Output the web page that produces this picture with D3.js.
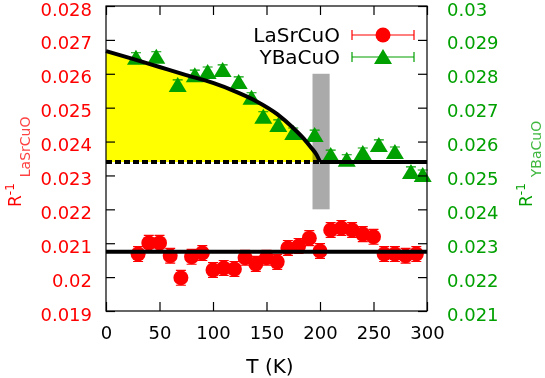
<!DOCTYPE html>
<meta charset="utf-8">
<script src="https://cdn.jsdelivr.net/npm/d3@7"></script>
<style>
  body { margin: 0; background: #fff; }
  svg { font-family: "DejaVu Sans", sans-serif; }
</style>
<body>
<script>
// LaSrCuO (left axis), red circles
const laT = [30, 40, 50, 60, 70, 80, 90, 100, 110, 120, 130, 140, 150, 160, 170,
             180, 190, 200, 210, 220, 230, 240, 250, 260, 270, 280, 290];
const laVal = [0.02068, 0.02101, 0.02101, 0.02063, 0.01998, 0.02060, 0.02071, 0.02021, 0.02027,
               0.02024, 0.02057, 0.02039, 0.02057, 0.02045, 0.02086, 0.02092, 0.02115, 0.02077,
               0.02139, 0.02145, 0.02139, 0.02127, 0.02119, 0.02068, 0.02068, 0.02063, 0.02068];
const laErr = [0.00022, 0.00022, 0.00022, 0.00022, 0.00022, 0.00022, 0.00022, 0.00022, 0.00022,
               0.00022, 0.00022, 0.00022, 0.00022, 0.00022, 0.00022, 0.00022, 0.00022, 0.00022,
               0.00022, 0.00022, 0.00022, 0.00022, 0.00022, 0.00022, 0.00022, 0.00022, 0.00022];
const laFit = 0.02075;

// YBaCuO (right axis), green triangles
const ybT = [28, 47, 67, 83, 95, 109, 124, 136, 147, 161, 175, 195, 210, 225, 240, 255, 270, 285, 296];
const ybVal = [0.02847, 0.02850, 0.02767, 0.02796, 0.02805, 0.02811, 0.02776, 0.02729, 0.02673,
               0.02649, 0.02625, 0.02619, 0.02560, 0.02546, 0.02566, 0.02590, 0.02569, 0.02510, 0.02501];
const ybErr = [0.00015, 0.00015, 0.00015, 0.00015, 0.00015, 0.00015, 0.00015, 0.00015, 0.00015,
               0.00015, 0.00015, 0.00015, 0.00015, 0.00015, 0.00015, 0.00015, 0.00015, 0.00015, 0.00015];

// fit curve for YBaCuO (right axis units)
const fitT = [0, 25, 50, 75, 100, 120, 140, 160, 175, 185, 192, 197, 200];
const fitVal = [0.02867, 0.02844, 0.02820, 0.02796, 0.02773, 0.02749, 0.02720, 0.02681,
                0.02640, 0.02608, 0.02581, 0.02560, 0.0254];
const ybBase = 0.0254;
const tc = 200;
const grayT = [193, 209];
const grayVal = [0.024, 0.028];

const xTicks = [0, 50, 100, 150, 200, 250, 300];
const leftTicks = [0.019, 0.02, 0.021, 0.022, 0.023, 0.024, 0.025, 0.026, 0.027, 0.028];
const rightTicks = [0.021, 0.022, 0.023, 0.024, 0.025, 0.026, 0.027, 0.028, 0.029, 0.03];

const red = "#ff0000", green = "#00a000";
const L = 106, R = 427, T = 6, B = 311;

const x = d3.scaleLinear().domain([0, 300]).range([L, R]);
const yL = d3.scaleLinear().domain([0.019, 0.028]).range([B, T]);
const yR = d3.scaleLinear().domain([0.021, 0.030]).range([B, T]);

const svg = d3.select("body").append("svg").attr("width", 545).attr("height", 378);

// gray band
svg.append("rect")
  .attr("x", x(grayT[0])).attr("width", x(grayT[1]) - x(grayT[0]))
  .attr("y", yR(grayVal[1])).attr("height", yR(grayVal[0]) - yR(grayVal[1]))
  .attr("fill", "#aaaaaa");

const fitPts = fitT.map((t, i) => [t, fitVal[i]]);

// yellow area between fit curve and baseline
svg.append("path")
  .datum(fitPts)
  .attr("d", d3.area().x(d => x(d[0])).y0(yR(ybBase)).y1(d => yR(d[1])).curve(d3.curveMonotoneX))
  .attr("fill", "#ffff00")
  .style("mix-blend-mode", "multiply");

// red error bars + circles
const laG = svg.append("g");
laT.forEach((t, i) => {
  const cx = x(t), hi = yL(laVal[i] + laErr[i]), lo = yL(laVal[i] - laErr[i]);
  laG.append("path")
    .attr("d", `M${cx},${hi}V${lo}M${cx - 5},${hi}H${cx + 5}M${cx - 5},${lo}H${cx + 5}`)
    .attr("stroke", red).attr("stroke-width", 1.2).attr("fill", "none");
});
laG.selectAll("circle").data(laT).join("circle")
  .attr("cx", d => x(d)).attr("cy", (d, i) => yL(laVal[i])).attr("r", 7.5)
  .attr("fill", red);

// green triangles
const tri = "M0,-8L9,7L-9,7Z";
const ybG = svg.append("g");
ybT.forEach((t, i) => {
  const cx = x(t), hi = yR(ybVal[i] + ybErr[i]), lo = yR(ybVal[i] - ybErr[i]);
  ybG.append("path")
    .attr("d", `M${cx},${hi}V${lo}M${cx - 5},${hi}H${cx + 5}M${cx - 5},${lo}H${cx + 5}`)
    .attr("stroke", green).attr("stroke-width", 1.2).attr("fill", "none");
});
ybG.selectAll("path.tri").data(ybT).join("path").attr("class", "tri")
  .attr("d", tri)
  .attr("transform", (d, i) => `translate(${x(d)},${yR(ybVal[i])})`)
  .attr("fill", green);

// fit lines
svg.append("line")
  .attr("x1", x(0)).attr("x2", x(tc)).attr("y1", yR(ybBase)).attr("y2", yR(ybBase))
  .attr("stroke", "#000").attr("stroke-width", 4).attr("stroke-dasharray", "6,3");
svg.append("line")
  .attr("x1", x(tc)).attr("x2", x(300)).attr("y1", yR(ybBase)).attr("y2", yR(ybBase))
  .attr("stroke", "#000").attr("stroke-width", 4);
svg.append("path")
  .datum(fitPts)
  .attr("d", d3.line().x(d => x(d[0])).y(d => yR(d[1])).curve(d3.curveMonotoneX))
  .attr("fill", "none").attr("stroke", "#000").attr("stroke-width", 4);
svg.append("line")
  .attr("x1", x(0)).attr("x2", x(300)).attr("y1", yL(laFit)).attr("y2", yL(laFit))
  .attr("stroke", "#000").attr("stroke-width", 4);

// axes
const fmt = d => String(+d.toFixed(3));
function style(g, color) {
  g.attr("font-family", "DejaVu Sans, sans-serif").attr("font-size", 18);
  g.select(".domain").remove();
  g.selectAll(".tick line").attr("stroke", "#000").attr("stroke-width", 1.2);
  g.selectAll(".tick text").attr("fill", color);
}
svg.append("g").attr("transform", `translate(0,${B})`)
  .call(d3.axisBottom(x).tickValues(xTicks).tickSizeInner(-9).tickSizeOuter(0).tickPadding(15))
  .call(g => style(g, "#000"));
svg.append("g").attr("transform", `translate(0,${T})`)
  .call(d3.axisTop(x).tickValues(xTicks).tickSizeInner(-9).tickSizeOuter(0).tickFormat(""))
  .call(g => style(g, "#000"));
svg.append("g").attr("transform", `translate(${L},0)`)
  .call(d3.axisLeft(yL).tickValues(leftTicks).tickFormat(fmt).tickSizeInner(-9).tickSizeOuter(0).tickPadding(14))
  .call(g => style(g, red))
  .call(g => g.selectAll(".tick text").attr("dy", "0.5em"));
svg.append("g").attr("transform", `translate(${R},0)`)
  .call(d3.axisRight(yR).tickValues(rightTicks).tickFormat(fmt).tickSizeInner(-9).tickSizeOuter(0).tickPadding(20))
  .call(g => style(g, green))
  .call(g => g.selectAll(".tick text").attr("dy", "0.5em"));

svg.append("rect").attr("x", L).attr("y", T).attr("width", R - L).attr("height", B - T)
  .attr("fill", "none").attr("stroke", "#000").attr("stroke-width", 1.2);

// axis titles
svg.append("text").attr("x", 270).attr("y", 373).attr("text-anchor", "middle")
  .attr("font-size", 20).text("T (K)");

function yTitle(px, color, sub) {
  const t = svg.append("text").attr("transform", `translate(${px},207) rotate(-90)`)
    .attr("fill", color).attr("font-size", 17);
  t.append("tspan").text("R");
  t.append("tspan").attr("font-size", 12).attr("dy", -7).text("-1");
  t.append("tspan").attr("font-size", 14).attr("dx", 6).attr("dy", 16)
    .attr("fill-opacity", 0.75).text(sub);
}
yTitle(21, red, "LaSrCuO");
yTitle(532, green, "YBaCuO");

// legend
const leg = svg.append("g").attr("font-size", 20);
[["LaSrCuO", red, 35, "c"], ["YBaCuO", green, 57, "t"]].forEach(([name, c, ly, m]) => {
  leg.append("text").attr("x", 340).attr("y", ly + 7).attr("text-anchor", "end").text(name);
  leg.append("path").attr("d", `M352,${ly}H414M352,${ly - 5}V${ly + 5}M414,${ly - 5}V${ly + 5}`)
    .attr("stroke", c).attr("stroke-width", 1.2).attr("fill", "none");
  if (m === "c") leg.append("circle").attr("cx", 383).attr("cy", ly).attr("r", 7.5).attr("fill", c);
  else leg.append("path").attr("d", tri).attr("transform", `translate(383,${ly})`).attr("fill", c);
});
</script>
</body>
